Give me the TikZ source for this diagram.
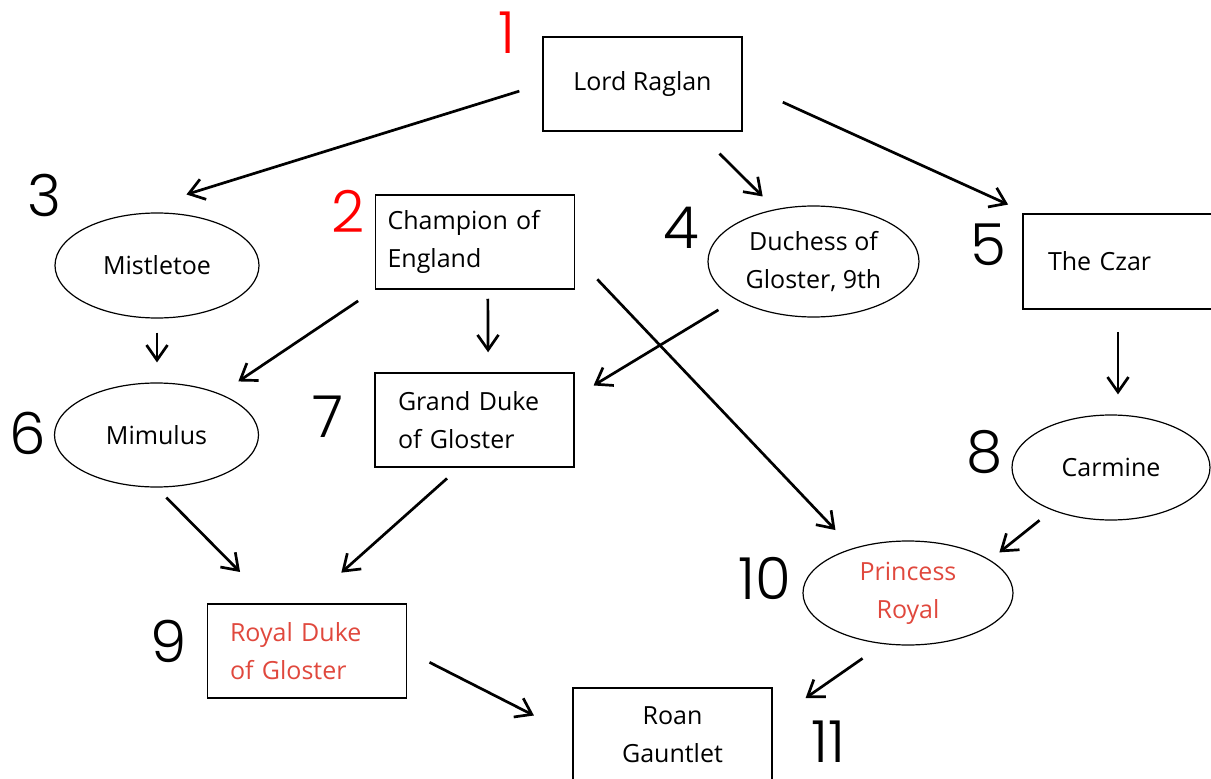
\documentclass[tikz,border=0pt]{standalone}
\usepackage{fontspec}
\setmainfont{Open Sans}
\newfontfamily\numfont{Poppins}[UprightFont={* Light}]
\usepackage{xcolor}
\usepackage{tikz}
\usetikzlibrary{shapes.geometric,arrows.meta,positioning}
\definecolor{numred}{RGB}{255,0,0}
\definecolor{namered}{RGB}{224,72,61}
\newcommand{\lbl}{\fontsize{25}{38}\selectfont}
\begin{document}
\begin{tikzpicture}[x=1pt, y=-1pt,
    box/.style={draw, line width=1.5pt, minimum width=199pt, minimum height=94pt, inner sep=0pt, font=\lbl, align=left},
    oval/.style={draw, ellipse, line width=1.2pt, inner sep=0pt, font=\lbl, align=center},
    num/.style={font=\numfont\fontsize{58}{58}\selectfont, inner sep=0pt},
    arr/.style={-{Straight Barb[length=15pt,width=21pt]}, line width=2.7pt}]
    \useasboundingbox (0,0) rectangle (1211,779);

    \node[box, align=center] (raglan) at (642.5,84) {Lord Raglan};
    \node[box, inner xsep=12pt, text width=175pt] (champ) at (475,242) {Champion of\\England};
    \node[oval, minimum width=204pt, minimum height=105pt] (mist) at (157,265.5) {Mistletoe};
    \node[oval, minimum width=211pt, minimum height=111pt] (duch) at (813.5,261.5) {Duchess of\\Gloster, 9th};
    \node[box, minimum width=190pt, minimum height=95pt, inner xsep=25pt, text width=140pt] (czar) at (1118,261.5) {The Czar};
    \node[oval, minimum width=204pt, minimum height=104pt] (mimu) at (156.5,435) {Mimulus};
    \node[box, inner xsep=23pt, text width=153pt] (gduke) at (474.5,420) {Grand Duke\\of Gloster};
    \node[oval, minimum width=198pt, minimum height=105pt] (carm) at (1111,467.5) {Carmine};
    \node[box, inner xsep=22pt, text width=154pt, text=namered] (rduke) at (307,651) {Royal Duke\\of Gloster};
    \node[oval, minimum width=210pt, minimum height=104pt, text=namered] (princ) at (908,593) {Princess\\Royal};
    \node[box, align=center] (roan) at (672.5,735) {Roan\\Gauntlet};

    \node[num, text=numred] (n1) at (507,33) {1};
    \node[num, text=numred] (n2) at (348,211) {2};
    \node[num] (n3) at (44,195) {3};
    \node[num] (n4) at (681,228) {4};
    \node[num] (n5) at (988,245) {5};
    \node[num] (n6) at (28,433) {6};
    \node[num] (n7) at (328,417) {7};
    \node[num] (n8) at (985,452) {8};
    \node[num] (n9) at (169,641) {9};
    \node[num] (n10) at (765,578) {10};
    \node[num] (n11) at (828,742) {11};

    \draw[arr, shorten <=24pt, shorten >=83pt] (raglan.west) -- (mist.137);
    \draw[arr, shorten <=31pt, shorten >=18pt] (raglan.-41) -- (duch.126);
    \draw[arr, shorten <=44pt, shorten >=21pt] (raglan.east) -- (czar.152);
    \draw[arr, shorten <=14pt, shorten >=20pt] (mist.south) -- (mist.south |- mimu.north);
    \draw[arr, shorten <=20pt, shorten >=22pt] (champ.south west) -- (mimu.33);
    \draw[arr, shorten <=9pt, shorten >=20pt] (champ.-75) -- (gduke.74);
    \draw[arr, shorten <=20pt, shorten >=22pt] (duch.206) -- (gduke.13);
    \draw[arr, shorten <=32pt, shorten >=25pt] (champ.-8.5) -- (princ.141);
    \draw[arr, shorten <=22pt, shorten >=20pt] (czar.south) -- (czar.south |- carm.north);
    \draw[arr, shorten <=14pt, shorten >=44pt] (mimu.south) -- (rduke.127);
    \draw[arr, shorten <=16pt, shorten >=46pt] (gduke.-108) -- (rduke.north);
    \draw[arr, shorten <=16pt, shorten >=12pt] (carm.-144) -- (princ.22);
    \draw[arr, shorten <=25pt, shorten >=43pt] (rduke.east) -- (roan.west);
    \draw[arr, shorten <=25pt, shorten >=40pt] (princ.-116) -- (roan.8);
\end{tikzpicture}
\end{document}
